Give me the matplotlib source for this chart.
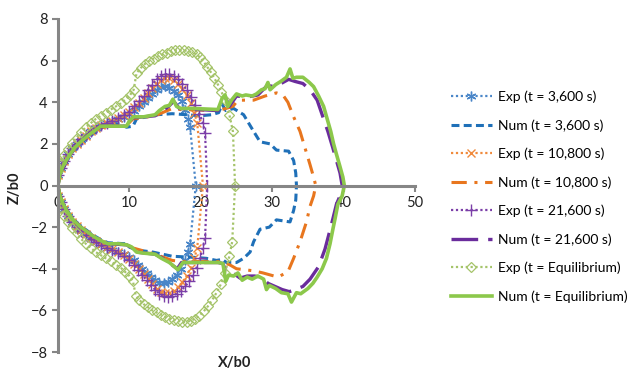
import matplotlib
matplotlib.use("Agg")
import matplotlib.pyplot as plt
import numpy as np

plt.rcParams['font.family'] = ['Lato', 'DejaVu Sans']

# experimental profiles (upper branch then lower branch)
exp3600_x = [0, 0.4, 0.9, 1.4, 2.0, 2.6, 3.2, 3.9, 4.6, 5.3, 6.0, 6.8, 7.6, 8.4, 9.2, 10.0, 10.7, 11.4, 12.0, 12.6,
             13.2, 13.8, 14.4, 15.0, 15.6, 16.2, 16.8, 17.3, 17.8, 18.2, 18.5, 19.3,
             18.5, 18.2, 17.8, 17.2, 16.6, 16.0, 15.4, 14.8, 14.2, 13.6, 13.0, 12.4, 11.8, 11.2, 10.6, 10.0, 9.2,
             8.4, 7.6, 6.8, 6.0, 5.3, 4.6, 3.9, 3.2, 2.6, 2.0, 1.4, 0.9, 0.4, 0]
exp3600_z = [0.5, 0.85, 1.2, 1.5, 1.8, 2.0, 2.2, 2.4, 2.6, 2.75, 2.9, 3.0, 3.1, 3.2, 3.3, 3.45, 3.6, 3.8, 4.0, 4.2,
             4.4, 4.6, 4.75, 4.8, 4.7, 4.55, 4.35, 4.05, 3.65, 3.2, 2.8, 0,
             -2.8, -3.2, -3.6, -4.0, -4.3, -4.5, -4.65, -4.7, -4.7, -4.55, -4.4, -4.2, -4.0, -3.8, -3.6, -3.45, -3.3,
             -3.2, -3.1, -3.0, -2.85, -2.7, -2.55, -2.4, -2.2, -2.0, -1.75, -1.45, -1.15, -0.8, -0.5]

exp10800_x = [0, 0.4, 0.9, 1.4, 2.0, 2.6, 3.2, 3.9, 4.6, 5.3, 6.0, 6.8, 7.6, 8.4, 9.2, 10.0, 10.7, 11.4, 12.0, 12.6,
              13.2, 13.8, 14.4, 15.0, 15.6, 16.2, 16.8, 17.4, 18.0, 18.6, 19.1, 19.5, 20.3,
              19.5, 19.1, 18.6, 18.0, 17.4, 16.8, 16.2, 15.6, 15.0, 14.4, 13.8, 13.2, 12.6, 12.0, 11.4, 10.7, 10.0,
              9.2, 8.4, 7.6, 6.8, 6.0, 5.3, 4.6, 3.9, 3.2, 2.6, 2.0, 1.4, 0.9, 0.4, 0]
exp10800_z = [0.5, 0.85, 1.2, 1.5, 1.8, 2.0, 2.2, 2.4, 2.6, 2.75, 2.9, 3.0, 3.1, 3.25, 3.4, 3.55, 3.75, 3.95, 4.2,
              4.45, 4.7, 4.9, 5.05, 5.15, 5.15, 5.05, 4.9, 4.65, 4.35, 3.95, 3.5, 3.0, 0,
              -3.0, -3.5, -3.95, -4.35, -4.65, -4.9, -5.05, -5.15, -5.15, -5.1, -4.95, -4.75, -4.5, -4.25, -4.0,
              -3.75, -3.55, -3.35, -3.2, -3.05, -2.95, -2.8, -2.65, -2.5, -2.35, -2.15, -1.95, -1.75, -1.45, -1.15,
              -0.8, -0.5]

exp21600_x = [0, 0.4, 0.9, 1.4, 2.0, 2.6, 3.2, 3.9, 4.6, 5.3, 6.0, 6.8, 7.6, 8.4, 9.2, 10.0, 10.7, 11.4, 12.0, 12.6,
              13.2, 13.8, 14.4, 15.0, 15.6, 16.2, 16.8, 17.4, 18.0, 18.6, 19.2, 19.8, 20.3, 20.6, 20.9,
              20.6, 20.3, 19.9, 19.4, 18.9, 18.4, 17.8, 17.2, 16.6, 16.0, 15.4, 14.8, 14.2, 13.6, 13.0, 12.4, 11.8,
              11.2, 10.6, 10.0, 9.2, 8.4, 7.6, 6.8, 6.0, 5.3, 4.6, 3.9, 3.2, 2.6, 2.0, 1.4, 0.9, 0.4, 0]
exp21600_z = [0.5, 0.85, 1.2, 1.5, 1.8, 2.0, 2.25, 2.45, 2.6, 2.75, 2.9, 3.0, 3.1, 3.25, 3.4, 3.55, 3.8, 4.05, 4.3,
              4.6, 4.85, 5.1, 5.25, 5.35, 5.35, 5.25, 5.1, 4.9, 4.6, 4.25, 3.85, 3.45, 3.0, 2.5, 0,
              -2.5, -3.0, -3.5, -3.95, -4.3, -4.6, -4.85, -5.05, -5.2, -5.3, -5.35, -5.3, -5.2, -5.0, -4.8, -4.55,
              -4.3, -4.05, -3.8, -3.6, -3.4, -3.25, -3.1, -3.0, -2.85, -2.7, -2.55, -2.4, -2.2, -2.0, -1.75, -1.45,
              -1.15, -0.8, -0.5]

expeq_x = [0, 0.4, 0.9, 1.4, 2.0, 2.6, 3.2, 3.9, 4.6, 5.3, 6.0, 6.7, 7.4, 8.1, 8.8, 9.5, 10.1, 10.6, 11.0, 11.6,
           12.2, 12.8, 13.4, 14.0, 14.6, 15.2, 15.8, 16.4, 17.0, 17.6, 18.2, 18.8, 19.4, 19.9, 20.4, 20.9, 21.4,
           21.9, 22.4, 22.9, 23.4, 24.0, 24.5, 24.8,
           24.4, 24.0, 23.4, 22.8, 22.2, 21.6, 21.0, 20.4, 19.8, 19.2, 18.6, 18.0, 17.4, 16.8, 16.2, 15.6, 15.0,
           14.4, 13.8, 13.2, 12.6, 12.0, 11.4, 10.9, 10.5, 10.0, 9.4, 8.8, 8.1, 7.4, 6.7, 6.0, 5.3, 4.6, 3.9, 3.2,
           2.6, 2.0, 1.4, 0.9, 0.4, 0]
expeq_z = [0.7, 1.1, 1.45, 1.75, 2.05, 2.3, 2.55, 2.8, 3.0, 3.2, 3.35, 3.5, 3.65, 3.8, 3.95, 4.15, 4.35, 4.6, 5.4,
           5.65, 5.85, 6.0, 6.1, 6.2, 6.3, 6.35, 6.45, 6.5, 6.5, 6.5, 6.45, 6.4, 6.3, 6.15, 5.95, 5.7, 5.45, 5.15,
           4.85, 4.5, 4.1, 3.4, 2.6, 0,
           -2.7, -3.4, -4.2, -4.75, -5.15, -5.5, -5.8, -6.05, -6.25, -6.4, -6.5, -6.55, -6.55, -6.5, -6.45, -6.4,
           -6.3, -6.2, -6.1, -6.0, -5.85, -5.7, -5.5, -5.3, -4.6, -4.35, -4.15, -3.95, -3.8, -3.65, -3.5, -3.35,
           -3.2, -3.0, -2.8, -2.55, -2.3, -2.05, -1.75, -1.45, -1.1, -0.7]

# numerical profiles
num3600_x = [0, 0.3, 1, 2, 3, 4, 5, 6, 7.8, 9, 9.6, 10.5, 11, 13.8, 16, 19.9, 21.5, 22.5, 23, 23.5, 24.6, 26,
             27.4, 28.3, 29.7, 30.6, 32.3, 33, 33.3, 33.4,
             33.3, 33, 32.5, 30.6, 29.6, 28.3, 27.4, 26.9, 26, 25, 23.6, 23, 22.2, 20.8, 19, 16, 13.3, 11, 10, 9.5,
             7, 6, 5, 4, 3, 2, 1, 0.3, 0]
num3600_z = [0, 0.55, 1.05, 1.6, 1.95, 2.25, 2.5, 2.75, 3.0, 2.9, 2.8, 2.85, 3.2, 3.4, 3.45, 3.35, 3.4, 3.5, 3.9,
             3.6, 3.7, 3.4, 2.6, 2.1, 2.0, 1.7, 1.65, 1.2, 0.6, 0,
             -0.7, -1.2, -1.75, -1.65, -2.0, -2.1, -2.7, -3.2, -3.5, -3.7, -3.7, -3.55, -3.6, -3.5, -3.45, -3.4,
             -3.2, -3.1, -2.96, -2.8, -2.75, -2.6, -2.4, -2.15, -1.9, -1.55, -1.05, -0.5, 0]

num10800_x = [0, 0.3, 1, 2, 3, 4, 5, 6, 7.5, 9.5, 10.5, 13.6, 16, 17.2, 22.4, 23.5, 24.5, 25.2, 27.4, 29, 30.6,
              31.5, 32.2, 33, 33.9, 34.6, 35.3, 35.8, 36.1,
              35.8, 35.3, 34.8, 33.9, 33, 32.2, 30.8, 28.7, 27.4, 25, 24, 23, 22.4, 17.2, 16, 13.6, 10.5, 9.5, 7,
              6, 5, 4, 3, 2, 1, 0.3, 0]
num10800_z = [0, 0.55, 1.05, 1.65, 2.0, 2.3, 2.6, 2.8, 2.85, 2.85, 3.2, 3.35, 3.7, 3.65, 3.6, 3.7, 3.8, 4.1, 4.1,
              4.3, 4.45, 4.35, 4.0, 3.3, 2.6, 1.8, 1.0, 0.4, 0,
              -0.5, -1.0, -1.75, -2.7, -3.5, -4.15, -4.4, -4.2, -4.1, -4.0, -3.8, -3.7, -3.65, -3.65, -3.6, -3.3,
              -3.0, -2.85, -2.8, -2.65, -2.45, -2.2, -1.95, -1.6, -1.05, -0.5, 0]

num21600_x = [0, 0.3, 1, 2, 3, 4, 5, 6, 7.5, 9.5, 10.5, 13.6, 15.5, 16.2, 17, 22.4, 23, 23.5, 24, 25, 26.5, 28,
              29.3, 30.5, 31.5, 32.3, 33.2, 34.3, 35.3, 36.3, 37.1, 37.8, 38.5, 39, 39.5, 39.8,
              39.5, 39, 38.5, 37.9, 37.4, 36.5, 35.3, 34.3, 33.2, 32.4, 31.4, 30.4, 29.4, 28.5, 27.5, 26.5, 25.5,
              24.5, 23.6, 23.1, 22.4, 17.3, 16.7, 16.1, 15.5, 13.6, 11, 10.2, 9.6, 7, 6, 5, 4, 3, 2, 1.2, 0.6, 0.2, 0]
num21600_z = [0, 0.6, 1.0, 1.75, 2.1, 2.4, 2.65, 2.85, 2.85, 2.85, 3.25, 3.35, 3.8, 4.05, 3.7, 3.6, 4.1, 4.2, 3.8,
              4.3, 4.25, 4.35, 4.8, 4.75, 4.95, 5.1, 5.0, 4.9, 4.6, 4.1, 3.3, 2.6, 1.8, 1.2, 0.6, 0,
              -0.5, -0.9, -1.6, -2.4, -3.05, -3.9, -4.5, -4.85, -5.0, -5.1, -5.0, -4.85, -4.7, -4.4, -4.35, -4.35,
              -4.45, -4.2, -4.2, -3.75, -3.7, -3.7, -4.0, -3.85, -3.65, -3.3, -3.2, -2.95, -2.85, -2.8, -2.65,
              -2.45, -2.2, -1.95, -1.6, -1.2, -0.8, -0.4, 0]

numeq_x = [0, 0.3, 0.8, 1.5, 2.3, 3.2, 4.2, 5.2, 6, 7, 8.5, 9.6, 10, 10.6, 12, 13.6, 14.2, 15, 15.6, 16.1, 16.6,
           17.2, 19, 22.4, 23, 23.4, 23.8, 24.3, 25, 25.8, 26.3, 27.2, 27.8, 28.5, 29, 29.4, 29.7, 30.5, 31.2, 32,
           32.5, 32.9, 33.4, 34.3, 35.2, 35.8, 36.5, 37.2, 37.7, 38.2, 38.6, 39, 39.5, 39.9, 40.1,
           39.8, 39.2, 38.8, 38.5, 38.1, 37.6, 37, 36.3, 35.7, 35, 34, 33.4, 32.7, 32.2, 31.3, 30.5, 29.6, 29.2,
           28.8, 28, 27.2, 26.5, 25.8, 25.2, 24.6, 23.9, 23.5, 23.1, 22.5, 19, 17.5, 16.8, 16.3, 15.6, 14.5, 13.6,
           12, 11, 10.3, 9.6, 8.5, 7, 6, 5, 4, 3, 2, 1.2, 0.6, 0.2, 0]
numeq_z = [0, 0.6, 1.0, 1.4, 1.8, 2.1, 2.4, 2.65, 2.85, 2.85, 2.85, 2.85, 3.1, 3.3, 3.3, 3.4, 3.6, 3.8, 3.85, 4.15,
           3.8, 3.7, 3.7, 3.65, 4.2, 4.35, 3.8, 4.1, 4.4, 4.3, 4.35, 4.3, 4.4, 4.6, 4.65, 4.95, 4.6, 4.85, 5.0,
           5.2, 5.6, 5.15, 5.2, 5.2, 4.95, 4.75, 4.3, 3.8, 3.2, 2.6, 2.0, 1.5, 0.9, 0.4, 0,
           -0.5, -0.9, -1.6, -2.1, -2.8, -3.5, -4.0, -4.4, -4.7, -4.95, -5.2, -5.15, -5.6, -5.2, -5.15, -4.95,
           -4.8, -5.0, -4.5, -4.35, -4.5, -4.4, -4.55, -4.2, -4.35, -4.3, -4.6, -3.75, -3.7, -3.7, -3.7, -4.05,
           -3.9, -3.7, -3.5, -3.3, -3.25, -3.2, -2.95, -2.85, -2.8, -2.8, -2.65, -2.45, -2.2, -1.95, -1.6, -1.2,
           -0.8, -0.4, 0]

fig = plt.figure(figsize=(6.33, 3.71), dpi=100)
ax = fig.add_axes([0.0916, 0.0512, 0.564, 0.8976])

dot = (0, (1, 1.2))
ax.plot(exp3600_x, exp3600_z, color='#4a86c8', lw=1.6, ls=dot, marker=(6, 2, 0), ms=7, mew=1.0,
        label='Exp (t = 3,600 s)')
ax.plot(num3600_x, num3600_z, color='#1f70b8', lw=2.2, ls=(0, (2.6, 1.4)), label='Num (t = 3,600 s)')
ax.plot(exp10800_x, exp10800_z, color='#f08a3c', lw=1.6, ls=dot, marker='x', ms=6, mew=1.0,
        label='Exp (t = 10,800 s)')
ax.plot(num10800_x, num10800_z, color='#e8761e', lw=2.2, ls=(0, (5, 2.5, 1, 2.5)), label='Num (t = 10,800 s)')
ax.plot(exp21600_x, exp21600_z, color='#7b3fa8', lw=1.6, ls=dot, marker='+', ms=8, mew=1.0,
        label='Exp (t = 21,600 s)')
ax.plot(num21600_x, num21600_z, color='#6a2c9c', lw=2.4, ls=(0, (8, 3)), label='Num (t = 21,600 s)')
ax.plot(expeq_x, expeq_z, color='#a5c46a', lw=1.6, ls=dot, marker='D', ms=5.5, mew=0.9, mfc='none',
        label='Exp (t = Equilibrium)')
ax.plot(numeq_x, numeq_z, color='#8cc84b', lw=2.6, label='Num (t = Equilibrium)')

ax.set_xlim(0, 50)
ax.set_ylim(-8, 8)
ax.set_xticks(np.arange(0, 51, 10))
ax.set_yticks(np.arange(-8, 9, 2))

for side in ['top', 'right']:
    ax.spines[side].set_visible(False)
ax.spines['bottom'].set_position(('data', 0))
for side in ['left', 'bottom']:
    ax.spines[side].set_color('#868686')
    ax.spines[side].set_linewidth(2.2)
ax.tick_params(colors='#868686', width=1.5, length=4, labelcolor='#222222', labelsize=10.5)

fig.text(0.371, 0.022, 'X/b0', ha='center', va='center', fontsize=10.5, fontweight='bold', color='#222222')
fig.text(0.024, 0.493, 'Z/b0', ha='center', va='center', rotation=90, fontsize=10.5, fontweight='bold',
         color='#222222')

ax.legend(loc='center left', bbox_to_anchor=(0.703, 0.47), bbox_transform=fig.transFigure, frameon=False,
          fontsize=10, numpoints=1, handlelength=3.0, handletextpad=0.45, labelspacing=1.15, borderaxespad=0)

fig.savefig('out.png', dpi=100)
